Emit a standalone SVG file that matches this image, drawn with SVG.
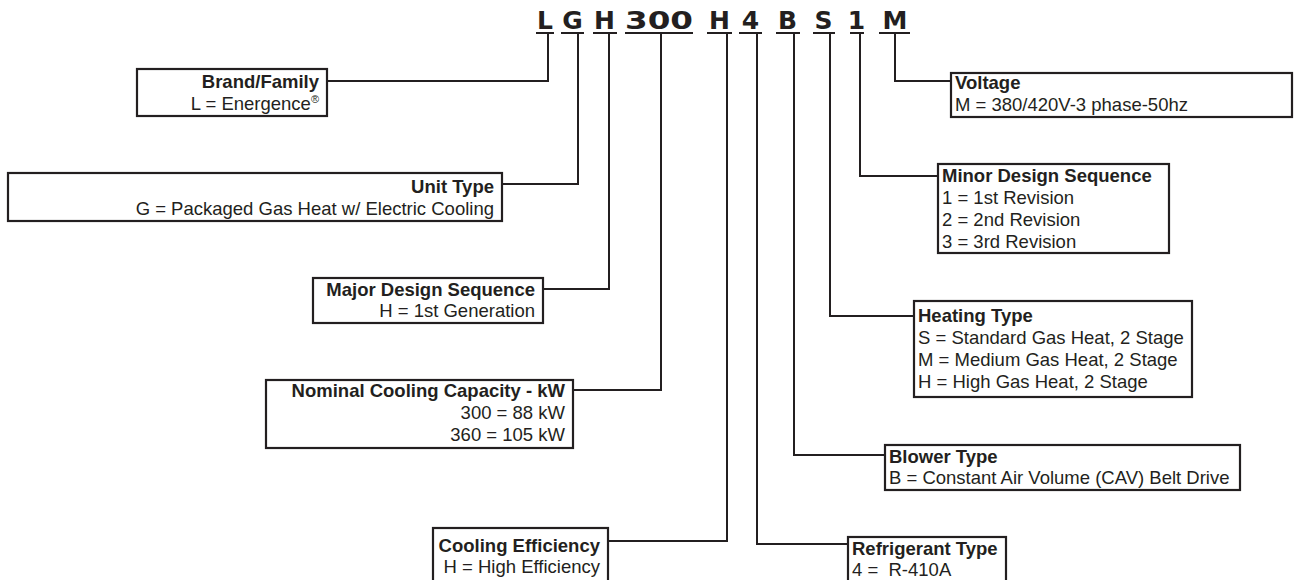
<svg xmlns="http://www.w3.org/2000/svg" width="1294" height="580" viewBox="0 0 1294 580">
<style>
.bg{fill:#ffffff}
.box{fill:#ffffff;stroke:#231f20;stroke-width:2.2}
.con{fill:none;stroke:#231f20;stroke-width:2}
.ul{stroke:#231f20;stroke-width:2}
.code{font-family:"DejaVu Sans",sans-serif;font-weight:bold;font-size:25px;fill:#231f20;text-anchor:middle}
.t{font-family:"Liberation Sans",Arial,sans-serif;font-size:18.5px;fill:#231f20}
.b{font-weight:bold}
.r{text-anchor:end}
.sup{font-size:11px}
</style>
<rect class="bg" x="0" y="0" width="1294" height="580"/>
<g id="code">
<text class="code" x="545" y="28.5">L</text>
<text class="code" x="572.5" y="28.5">G</text>
<text class="code" x="604.5" y="28.5">H</text>
<text class="code" x="659" y="28.5" textLength="68" lengthAdjust="spacingAndGlyphs">300</text>
<text class="code" x="719.5" y="28.5">H</text>
<text class="code" x="750.5" y="28.5">4</text>
<text class="code" x="787.5" y="28.5">B</text>
<text class="code" x="823.5" y="28.5">S</text>
<text class="code" x="856.5" y="28.5">1</text>
<text class="code" x="895" y="28.5">M</text>
<g class="ul">
<line x1="536" y1="33" x2="554" y2="33"/>
<line x1="561" y1="33" x2="584" y2="33"/>
<line x1="593" y1="33" x2="617" y2="33"/>
<line x1="625" y1="33" x2="693" y2="33"/>
<line x1="707" y1="33" x2="732" y2="33"/>
<line x1="739" y1="33" x2="762" y2="33"/>
<line x1="776" y1="33" x2="800" y2="33"/>
<line x1="813" y1="33" x2="835" y2="33"/>
<line x1="850" y1="33" x2="864" y2="33"/>
<line x1="879" y1="33" x2="910" y2="33"/>
</g>
</g>
<g id="connectors">
<path class="con" d="M548,34 V81 H327"/>
<path class="con" d="M578,34 V184 H502"/>
<path class="con" d="M609,34 V289 H543"/>
<path class="con" d="M661,34 V390 H573"/>
<path class="con" d="M727,34 V541 H608"/>
<path class="con" d="M757,34 V544 H848"/>
<path class="con" d="M794,34 V455 H885"/>
<path class="con" d="M830,34 V316 H914"/>
<path class="con" d="M860,34 V176 H938"/>
<path class="con" d="M895,34 V81 H951"/>
</g>
<g id="brand">
<rect class="box" x="137" y="69" width="190" height="47"/>
<text class="t b r" x="319" y="88">Brand/Family</text>
<text class="t r" x="319" y="110">L = Energence<tspan class="sup" dy="-7">®</tspan></text>
</g>
<g id="unit-type">
<rect class="box" x="8" y="173" width="494" height="48"/>
<text class="t b r" x="494" y="193">Unit Type</text>
<text class="t r" x="494" y="215">G = Packaged Gas Heat w/ Electric Cooling</text>
</g>
<g id="major-design">
<rect class="box" x="313" y="278" width="230" height="45"/>
<text class="t b r" x="535" y="296">Major Design Sequence</text>
<text class="t r" x="535" y="317">H = 1st Generation</text>
</g>
<g id="nominal-capacity">
<rect class="box" x="266" y="380" width="307" height="68"/>
<text class="t b r" x="565" y="397">Nominal Cooling Capacity - kW</text>
<text class="t r" x="565" y="419">300 = 88 kW</text>
<text class="t r" x="565" y="441">360 = 105 kW</text>
</g>
<g id="cooling-efficiency">
<rect class="box" x="433" y="528" width="175" height="62"/>
<text class="t b r" x="600" y="552">Cooling Efficiency</text>
<text class="t r" x="600" y="573">H = High Efficiency</text>
</g>
<g id="refrigerant">
<rect class="box" x="848" y="537" width="158" height="55"/>
<text class="t b" x="852" y="555">Refrigerant Type</text>
<text class="t" x="852" y="576">4 =&#160; R-410A</text>
</g>
<g id="blower">
<rect class="box" x="885" y="445" width="355" height="45"/>
<text class="t b" x="889" y="463">Blower Type</text>
<text class="t" x="889" y="484">B = Constant Air Volume (CAV) Belt Drive</text>
</g>
<g id="heating">
<rect class="box" x="914" y="301" width="278" height="96"/>
<text class="t b" x="918" y="322">Heating Type</text>
<text class="t" x="918" y="344">S = Standard Gas Heat, 2 Stage</text>
<text class="t" x="918" y="366">M = Medium Gas Heat, 2 Stage</text>
<text class="t" x="918" y="388">H = High Gas Heat, 2 Stage</text>
</g>
<g id="minor-design">
<rect class="box" x="938" y="164" width="231" height="89"/>
<text class="t b" x="942" y="182">Minor Design Sequence</text>
<text class="t" x="942" y="204">1 = 1st Revision</text>
<text class="t" x="942" y="226">2 = 2nd Revision</text>
<text class="t" x="942" y="248">3 = 3rd Revision</text>
</g>
<g id="voltage">
<rect class="box" x="951" y="73" width="341" height="44"/>
<text class="t b" x="955" y="89">Voltage</text>
<text class="t" x="955" y="111">M = 380/420V-3 phase-50hz</text>
</g>
</svg>
